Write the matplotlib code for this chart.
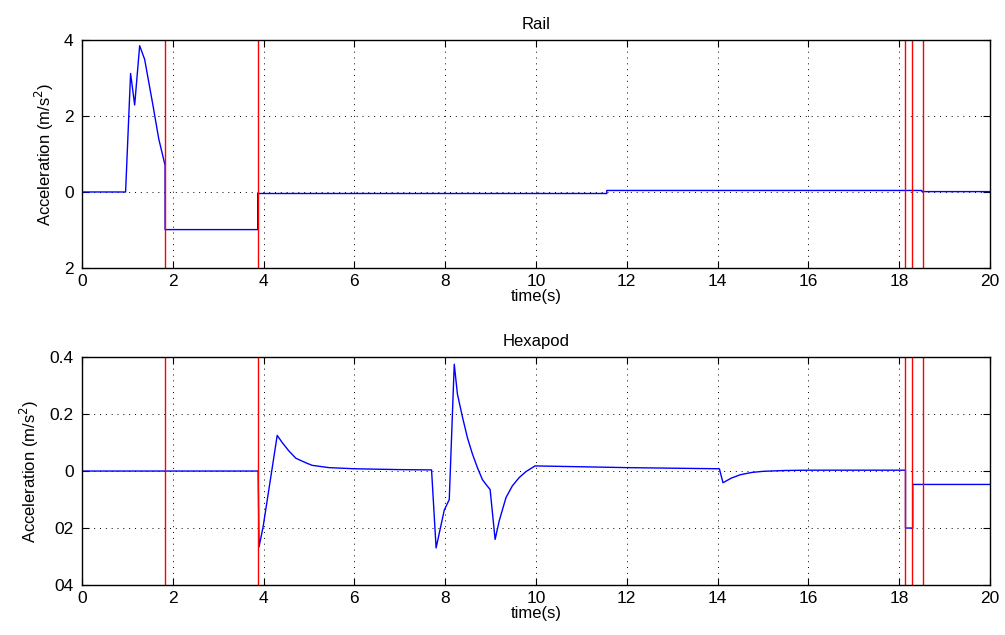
import matplotlib.pyplot as plt
import numpy as np

plt.rcParams['font.family'] = ['Liberation Sans', 'DejaVu Sans']

# rail acceleration (m/s^2) vs time
rail_t = [0, 0.96, 1.07, 1.16, 1.27, 1.38, 1.56, 1.69, 1.83, 1.83, 3.87, 3.87,
          11.56, 11.56, 18.5, 18.5, 20]
rail_a = [0, 0, 3.12, 2.29, 3.85, 3.49, 2.3, 1.4, 0.7, -0.99, -0.99, -0.04,
          -0.04, 0.04, 0.04, 0.01, 0.01]

# hexapod acceleration (m/s^2) vs time
hexa_t = [0, 3.88, 3.9, 3.99, 4.3, 4.41, 4.56, 4.71, 4.93, 5.07, 5.44, 6.0,
          7.0, 7.7, 7.8, 7.98, 8.09, 8.2, 8.27, 8.38, 8.49, 8.6, 8.71, 8.82,
          8.9, 8.99, 9.1, 9.19, 9.34, 9.48, 9.63, 9.78, 9.98, 11.0, 12.0,
          13.0, 14.04, 14.12, 14.3, 14.5, 14.75, 15.0, 15.5, 16.0, 18.14,
          18.14, 18.3, 18.3, 20]
hexa_a = [0, 0, -0.266, -0.195, 0.125, 0.1, 0.07, 0.045, 0.029, 0.02, 0.012,
          0.008, 0.005, 0.004, -0.27, -0.137, -0.1, 0.375, 0.27, 0.19, 0.117,
          0.06, 0.012, -0.03, -0.047, -0.065, -0.24, -0.175, -0.093, -0.052,
          -0.023, -0.002, 0.018, 0.015, 0.012, 0.01, 0.008, -0.041, -0.025,
          -0.013, -0.005, -0.001, 0.002, 0.003, 0.003, -0.2, -0.2, -0.047,
          -0.047]

# red event markers
events = [1.83, 3.88, 18.14, 18.29, 18.52]

rail_yticks = [-2, 0, 2, 4]
rail_ylabels = ['2', '0', '2', '4']
hexa_yticks = [-0.4, -0.2, 0, 0.2, 0.4]
hexa_ylabels = ['04', '02', '0', '0.2', '0.4']
xticks = [0, 2, 4, 6, 8, 10, 12, 14, 16, 18, 20]


def styleAxis(ax, title, yticks, ylabels):
    ax.set_xlim(0, 20)
    ax.set_ylim(yticks[0], yticks[-1])
    ax.set_xticks(xticks)
    ax.set_yticks(yticks)
    ax.set_yticklabels(ylabels)
    ax.grid(True, color='black', linestyle=(0, (1, 5)), linewidth=0.7)
    ax.tick_params(direction='in', top=True, right=True, length=5,
                   labelsize=12.5)
    ax.tick_params(axis='x', pad=4)
    ax.tick_params(axis='y', pad=6)
    for sp in ax.spines.values():
        sp.set_linewidth(1.0)
    ax.set_title(title, fontsize=12, pad=8)
    ax.set_xlabel('time(s)', fontsize=12, labelpad=0)
    ax.set_ylabel('Acceleration (m/s$^2$)', fontsize=12, labelpad=6)


fig = plt.figure(figsize=(10.05, 6.35), dpi=100)
ax1 = fig.add_axes([0.0816, 0.578, 0.9034, 0.359])
ax2 = fig.add_axes([0.0816, 0.0787, 0.9034, 0.359])

ax1.plot(rail_t, rail_a, color='blue', linewidth=1)
ax2.plot(hexa_t, hexa_a, color='blue', linewidth=1)
for ax in (ax1, ax2):
    for e in events:
        ax.axvline(e, color='red', linewidth=1)

styleAxis(ax1, 'Rail', rail_yticks, rail_ylabels)
styleAxis(ax2, 'Hexapod', hexa_yticks, hexa_ylabels)

fig.savefig('out.png', dpi=100)
